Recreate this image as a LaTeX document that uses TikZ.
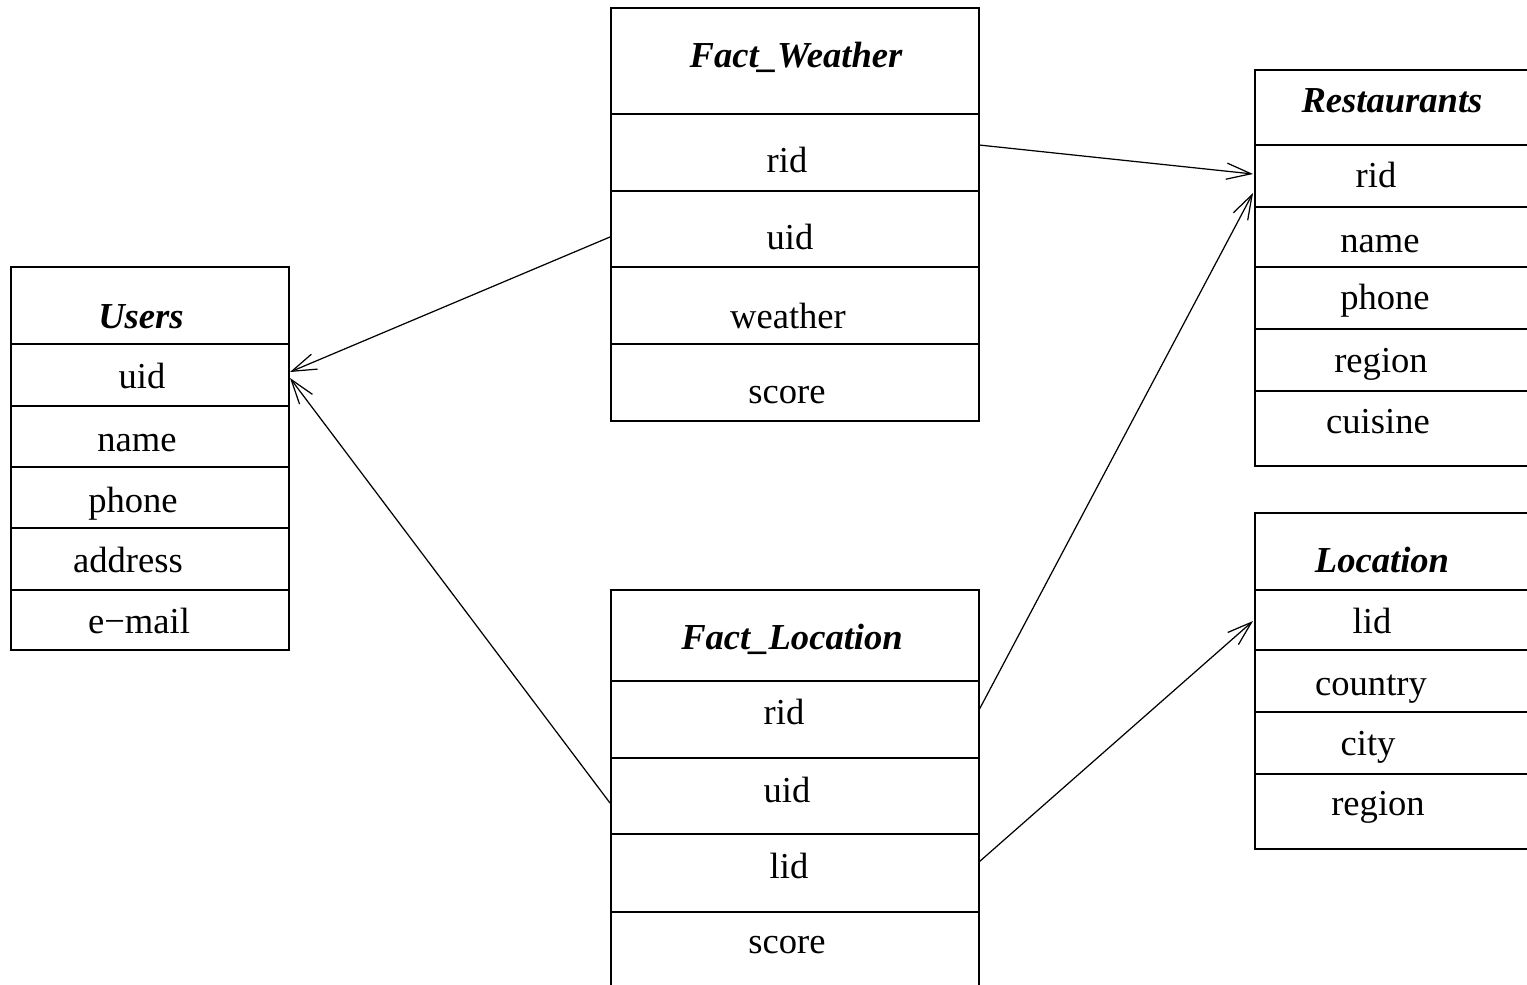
\documentclass[tikz,border=0pt]{standalone}
\usepackage{fontspec}
\setmainfont{Liberation Serif}
\usetikzlibrary{arrows.meta}
\begin{document}
\begin{tikzpicture}[x=0.01cm,y=-0.01cm,
  cell/.style={draw, line width=0.6pt, inner sep=0pt, anchor=north west},
  txt/.style={anchor=base, inner sep=0pt, font=\fontsize{10.4}{12}\selectfont},
  hd/.style={txt, font=\fontsize{10.4}{12}\selectfont\bfseries\itshape},
  link/.style={line width=0.35pt, -{Straight Barb[length=7pt,width=4.6pt]}}]
\useasboundingbox (0,0) rectangle (1527,985);
\clip (0,0) rectangle (1527,985);
\fill[white] (0,0) rectangle (1527,985);

% Fact_Weather
\node[cell, minimum width=3.68cm, minimum height=1.06cm] (fwh) at (610,7) {};
\node[cell, minimum width=3.68cm, minimum height=0.77cm] (fw1) at (610,113) {};
\node[cell, minimum width=3.68cm, minimum height=0.76cm] (fw2) at (610,190) {};
\node[cell, minimum width=3.68cm, minimum height=0.77cm] (fw3) at (610,266) {};
\node[cell, minimum width=3.68cm, minimum height=0.77cm] (fw4) at (610,343) {};
\node[hd] (fwt) at (796,68) {Fact\_Weather};
\node[txt] (fwt1) at (787,173) {rid};
\node[txt] (fwt2) at (790,250) {uid};
\node[txt] (fwt3) at (788,328) {weather};
\node[txt] (fwt4) at (787,403) {score};

% Users
\node[cell, minimum width=2.78cm, minimum height=0.77cm] (uh) at (10,266) {};
\node[cell, minimum width=2.78cm, minimum height=0.62cm] (u1) at (10,343) {};
\node[cell, minimum width=2.78cm, minimum height=0.61cm] (u2) at (10,405) {};
\node[cell, minimum width=2.78cm, minimum height=0.61cm] (u3) at (10,466) {};
\node[cell, minimum width=2.78cm, minimum height=0.62cm] (u4) at (10,527) {};
\node[cell, minimum width=2.78cm, minimum height=0.60cm] (u5) at (10,589) {};
\node[hd] (ut) at (141,328) {Users};
\node[txt] (ut1) at (142,388) {uid};
\node[txt] (ut2) at (137,451) {name};
\node[txt] (ut3) at (133,512) {phone};
\node[txt] (ut4) at (128,572) {address};
\node[txt] (ut5) at (139,633) {e−mail};

% Restaurants
\node[cell, minimum width=2.90cm, minimum height=0.75cm] (rh) at (1254,69) {};
\node[cell, minimum width=2.90cm, minimum height=0.62cm] (r1) at (1254,144) {};
\node[cell, minimum width=2.90cm, minimum height=0.60cm] (r2) at (1254,206) {};
\node[cell, minimum width=2.90cm, minimum height=0.62cm] (r3) at (1254,266) {};
\node[cell, minimum width=2.90cm, minimum height=0.62cm] (r4) at (1254,328) {};
\node[cell, minimum width=2.90cm, minimum height=0.75cm] (r5) at (1254,390) {};
\node[hd] (rt) at (1392,113) {Restaurants};
\node[txt] (rt1) at (1376,188) {rid};
\node[txt] (rt2) at (1380,252) {name};
\node[txt] (rt3) at (1385,310) {phone};
\node[txt] (rt4) at (1381,373) {region};
\node[txt] (rt5) at (1378,433) {cuisine};

% Location
\node[cell, minimum width=2.90cm, minimum height=0.77cm] (lh) at (1254,512) {};
\node[cell, minimum width=2.90cm, minimum height=0.60cm] (l1) at (1254,589) {};
\node[cell, minimum width=2.90cm, minimum height=0.62cm] (l2) at (1254,649) {};
\node[cell, minimum width=2.90cm, minimum height=0.62cm] (l3) at (1254,711) {};
\node[cell, minimum width=2.90cm, minimum height=0.75cm] (l4) at (1254,773) {};
\node[hd] (lt) at (1382,572) {Location};
\node[txt] (lt1) at (1372,633) {lid};
\node[txt] (lt2) at (1371,695) {country};
\node[txt] (lt3) at (1368,755) {city};
\node[txt] (lt4) at (1378,815) {region};

% Fact_Location
\node[cell, minimum width=3.68cm, minimum height=0.91cm] (flh) at (610,589) {};
\node[cell, minimum width=3.68cm, minimum height=0.77cm] (fl1) at (610,680) {};
\node[cell, minimum width=3.68cm, minimum height=0.76cm] (fl2) at (610,757) {};
\node[cell, minimum width=3.68cm, minimum height=0.78cm] (fl3) at (610,833) {};
\node[cell, minimum width=3.68cm, minimum height=0.95cm] (fl4) at (610,911) {};
\node[hd] (flt) at (792,649) {Fact\_Location};
\node[txt] (flt1) at (784,724) {rid};
\node[txt] (flt2) at (787,802) {uid};
\node[txt] (flt3) at (789,878) {lid};
\node[txt] (flt4) at (787,953) {score};

% connector end points
\coordinate (a1s) at (979,145);
\coordinate (a1e) at (1253,174);
\coordinate (a2s) at (610,237);
\coordinate (a2e) at (290,372);
\coordinate (a3s) at (610,803);
\coordinate (a3e) at (290,378);
\coordinate (a4s) at (979,710);
\coordinate (a4e) at (1253,193);
\coordinate (a5s) at (979,862);
\coordinate (a5e) at (1253,621);

\draw[link] (a1s) -- (a1e);
\draw[link] (a2s) -- (a2e);
\draw[link] (a3s) -- (a3e);
\draw[link] (a4s) -- (a4e);
\draw[link] (a5s) -- (a5e);
\end{tikzpicture}
\end{document}
